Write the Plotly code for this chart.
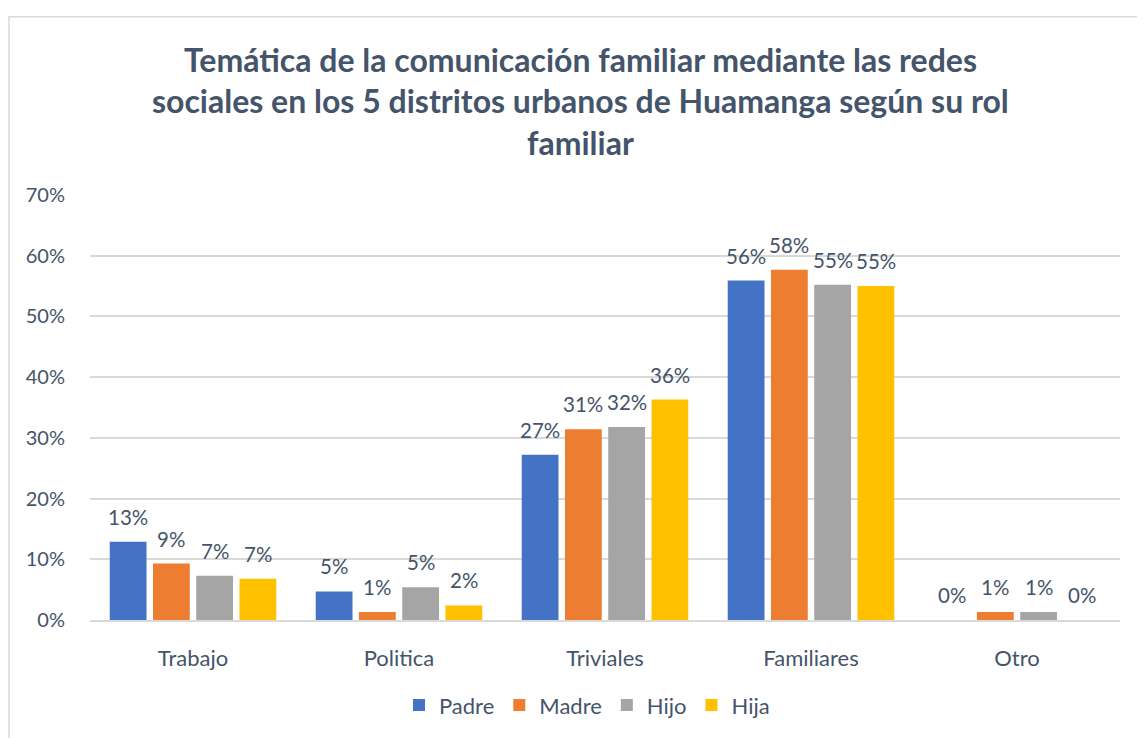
import plotly.graph_objects as go

categories = ["Trabajo", "Politica", "Triviales", "Familiares", "Otro"]
padre = [0.129, 0.047, 0.272, 0.559, 0.0]
madre = [0.093, 0.013, 0.314, 0.577, 0.013]
hijo = [0.073, 0.054, 0.318, 0.552, 0.013]
hija = [0.068, 0.024, 0.363, 0.550, 0.0]
series_names = ["Padre", "Madre", "Hijo", "Hija"]
series_values = [padre, madre, hijo, hija]
colors = ["#4472C4", "#ED7D31", "#A5A5A5", "#FFC000"]
title_lines = [
    "Temática de la comunicación familiar mediante las redes",
    "sociales en los 5 distritos urbanos de Huamanga según su rol",
    "familiar",
]
y_ticks = [0, 0.1, 0.2, 0.3, 0.4, 0.5, 0.6, 0.7]

FONT = "Lato"
TXT = "#44546A"
OFF = 8  # page body offset
BARGAP = 0.16

fig = go.Figure()
for name, vals, col in zip(series_names, series_values, colors):
    fig.add_trace(go.Bar(
        x=categories, y=vals, name=name,
        marker=dict(color=col, line=dict(width=0)),
    ))

W, H = 1145 - OFF, 738 - OFF
ml, mr, mt, mb = 90 - OFF, 25, 195 - OFF, 114
pw, ph = W - ml - mr, H - mt - mb

def px_x(x):
    return (x - OFF - ml) / pw

def px_y(y):
    return (H - mb - (y - OFF)) / ph

annotations = []
for i, line in enumerate(title_lines):
    annotations.append(dict(
        text=line, x=px_x(580), y=px_y(58 + 42 * i), xref="paper", yref="paper",
        xanchor="center", yanchor="middle", showarrow=False,
        font=dict(family=FONT, size=32, color=TXT, weight="bold"),
    ))

# data labels (placed via the axes' own scales, with a small lift above each bar)
n_series = len(series_values)
slot = (1 - BARGAP) / n_series
for si, vals in enumerate(series_values):
    off = (si - (n_series - 1) / 2) * slot
    for ci, v in enumerate(vals):
        annotations.append(dict(
            text=f"{v:.0%}", x=ci + off, y=v, xref="x", yref="y",
            xanchor="center", yanchor="bottom", showarrow=False, yshift=11,
            font=dict(family=FONT, size=20.5, color=TXT),
        ))

fig.update_layout(
    width=W, height=H,
    margin=dict(l=ml, r=mr, t=mt, b=mb),
    paper_bgcolor="white", plot_bgcolor="white",
    barmode="group", bargap=BARGAP, bargroupgap=0.15,
    font=dict(family=FONT, color=TXT, size=22),
    annotations=annotations,
    showlegend=True,
    legend=dict(orientation="h", x=px_x(587), xanchor="center", y=px_y(710), yanchor="middle",
                font=dict(family=FONT, size=22, color=TXT), itemwidth=30, traceorder="normal"),
    shapes=[dict(type="rect", xref="paper", yref="paper",
                 x0=px_x(9), x1=px_x(1160), y0=px_y(760), y1=px_y(15),
                 line=dict(color="#D9D9D9", width=1.5), fillcolor="rgba(0,0,0,0)", layer="below")],
)
fig.update_xaxes(showgrid=False, showline=True, linecolor="#D9D9D9", linewidth=2,
                 tickfont=dict(family=FONT, size=22, color=TXT), ticks="", ticklabelstandoff=18)
fig.update_yaxes(range=[0, 0.7], tickvals=y_ticks, tickformat=".0%", showgrid=True,
                 gridcolor="#D9D9D9", gridwidth=1.5, zeroline=False, showline=False, ticks="",
                 tickfont=dict(family=FONT, size=20, color=TXT), ticklabelstandoff=24)

fig.write_html("out.html")
